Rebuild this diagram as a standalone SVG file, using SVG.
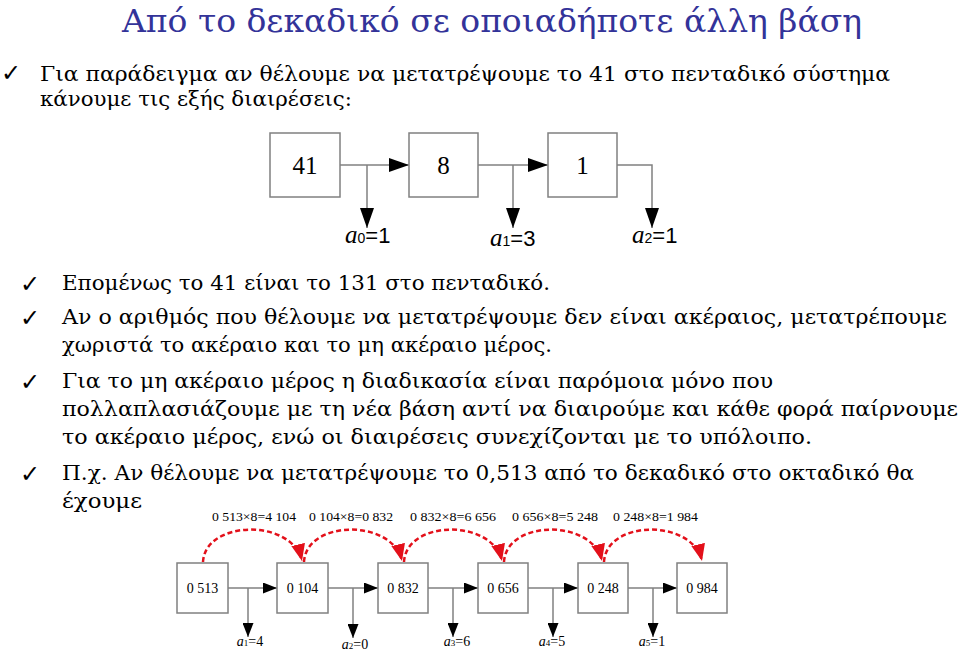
<svg xmlns="http://www.w3.org/2000/svg" width="960" height="651" viewBox="0 0 960 651">
<style>
.title{font-family:"DejaVu Serif","Liberation Serif",serif;font-size:32px;fill:#333399}
.body{font-family:"DejaVu Serif","Liberation Serif",serif;font-size:20px;fill:#000}
.chk{font-family:"DejaVu Sans",sans-serif;font-size:24px;fill:#000}
.box{fill:#fff;stroke:#808080;stroke-width:1.5}
.conn{fill:none;stroke:#808080;stroke-width:1.5}
.big{font-family:"Liberation Serif",serif;font-size:25px;fill:#000;text-anchor:middle}
.lab{font-family:"Liberation Sans",sans-serif;font-size:22px;fill:#000}
.labi{font-family:"Liberation Serif",serif;font-style:italic;font-size:25px}
.sm{font-family:"Liberation Serif",serif;font-size:14px;fill:#000;text-anchor:middle}
.calc{font-family:"Liberation Serif",serif;font-size:13px;fill:#000}
.red{fill:none;stroke:#E3101A;stroke-width:2.5;stroke-dasharray:5,3}
.slab{font-family:"Liberation Serif",serif;font-size:14px;fill:#000;text-anchor:middle}
</style>
<defs>
<marker id="ah" viewBox="0 0 20 14" refX="20" refY="7" markerWidth="20" markerHeight="14" markerUnits="userSpaceOnUse" orient="auto"><path d="M0,0 L20,7 L0,14 z" fill="#000"/></marker>
<marker id="ahs" viewBox="0 0 14 11" refX="14" refY="5.5" markerWidth="14" markerHeight="11" markerUnits="userSpaceOnUse" orient="auto"><path d="M0,0 L14,5.5 L0,11 z" fill="#000"/></marker>
<marker id="ahr" viewBox="0 0 17 14" refX="17" refY="7" markerWidth="17" markerHeight="14" markerUnits="userSpaceOnUse" orient="auto"><path d="M0,0 L17,7 L0,14 z" fill="#E3101A"/></marker>
</defs>

<g id="text">
<text class="title" x="122" y="32" textLength="740" lengthAdjust="spacingAndGlyphs">Από το δεκαδικό σε οποιαδήποτε άλλη βάση</text>
<text class="chk" x="1" y="81">✓</text>
<text class="body" x="40" y="81" textLength="850" lengthAdjust="spacingAndGlyphs">Για παράδειγμα αν θέλουμε να μετατρέψουμε το 41 στο πενταδικό σύστημα</text>
<text class="body" x="40" y="106" textLength="312" lengthAdjust="spacingAndGlyphs">κάνουμε τις εξής διαιρέσεις:</text>
<text class="chk" x="20" y="292">✓</text>
<text class="body" x="62" y="290" textLength="488" lengthAdjust="spacingAndGlyphs">Επομένως το 41 είναι το 131 στο πενταδικό.</text>
<text class="chk" x="20" y="326">✓</text>
<text class="body" x="62" y="324" textLength="885" lengthAdjust="spacingAndGlyphs">Αν ο αριθμός που θέλουμε να μετατρέψουμε δεν είναι ακέραιος, μετατρέπουμε</text>
<text class="body" x="62" y="352" textLength="490" lengthAdjust="spacingAndGlyphs">χωριστά το ακέραιο και το μη ακέραιο μέρος.</text>
<text class="chk" x="20" y="390">✓</text>
<text class="body" x="62" y="388" textLength="711" lengthAdjust="spacingAndGlyphs">Για το μη ακέραιο μέρος η διαδικασία είναι παρόμοια μόνο που</text>
<text class="body" x="62" y="416" textLength="896" lengthAdjust="spacingAndGlyphs">πολλαπλασιάζουμε με τη νέα βάση αντί να διαιρούμε και κάθε φορά παίρνουμε</text>
<text class="body" x="62" y="444" textLength="750" lengthAdjust="spacingAndGlyphs">το ακέραιο μέρος, ενώ οι διαιρέσεις συνεχίζονται με το υπόλοιπο.</text>
<text class="chk" x="20" y="482">✓</text>
<text class="body" x="62" y="480" textLength="852" lengthAdjust="spacingAndGlyphs">Π.χ. Αν θέλουμε να μετατρέψουμε το 0,513 από το δεκαδικό στο οκταδικό θα</text>
<text class="body" x="62" y="508" textLength="80" lengthAdjust="spacingAndGlyphs">έχουμε</text>
</g>

<g id="connectors">
<path class="conn" d="M340 165 H409" marker-end="url(#ah)"/>
<path class="conn" d="M367 165 V228" marker-end="url(#ah)"/>
<path class="conn" d="M478 165 H548" marker-end="url(#ah)"/>
<path class="conn" d="M513 165 V228" marker-end="url(#ah)"/>
<path class="conn" d="M617 165 H652 V228" marker-end="url(#ah)"/>

<path class="conn" d="M228 588 H277" marker-end="url(#ahs)"/>
<path class="conn" d="M248 588 V637" marker-end="url(#ahs)"/>
<path class="conn" d="M328 588 H378" marker-end="url(#ahs)"/>
<path class="conn" d="M353 588 V638" marker-end="url(#ahs)"/>
<path class="conn" d="M428 588 H478" marker-end="url(#ahs)"/>
<path class="conn" d="M453 588 V637" marker-end="url(#ahs)"/>
<path class="conn" d="M528 588 H578" marker-end="url(#ahs)"/>
<path class="conn" d="M553 588 V637" marker-end="url(#ahs)"/>
<path class="conn" d="M628 588 H677" marker-end="url(#ahs)"/>
<path class="conn" d="M653 588 V637" marker-end="url(#ahs)"/>

<path class="red" d="M203 562 C205 520, 292 518, 302 561" marker-end="url(#ahr)"/>
<path class="red" d="M304 562 C306 520, 392 518, 402 561" marker-end="url(#ahr)"/>
<path class="red" d="M404 562 C406 520, 492 518, 502 561" marker-end="url(#ahr)"/>
<path class="red" d="M504 562 C506 520, 592 518, 602 561" marker-end="url(#ahr)"/>
<path class="red" d="M604 562 C606 520, 692 518, 702 561" marker-end="url(#ahr)"/>
</g>

<g id="n41"><rect class="box" x="270" y="133" width="70" height="64"/><text class="big" x="305" y="174">41</text></g>
<g id="n8"><rect class="box" x="409" y="133" width="69" height="64"/><text class="big" x="443.5" y="174">8</text></g>
<g id="n1"><rect class="box" x="548" y="133" width="69" height="64"/><text class="big" x="582.5" y="174">1</text></g>

<g id="lab-a0"><text class="lab" x="345" y="243"><tspan class="labi">a</tspan><tspan font-size="14">0</tspan>=1</text></g>
<g id="lab-a1"><text class="lab" x="490" y="246"><tspan class="labi">a</tspan><tspan font-size="14">1</tspan>=3</text></g>
<g id="lab-a2"><text class="lab" x="632" y="243"><tspan class="labi">a</tspan><tspan font-size="14">2</tspan>=1</text></g>

<g id="calcs">
<text class="calc" x="212" y="521" textLength="84" lengthAdjust="spacingAndGlyphs">0 513×8=4 104</text>
<text class="calc" x="309" y="521" textLength="84" lengthAdjust="spacingAndGlyphs">0 104×8=0 832</text>
<text class="calc" x="410" y="521" textLength="86" lengthAdjust="spacingAndGlyphs">0 832×8=6 656</text>
<text class="calc" x="512" y="521" textLength="86" lengthAdjust="spacingAndGlyphs">0 656×8=5 248</text>
<text class="calc" x="613" y="521" textLength="85" lengthAdjust="spacingAndGlyphs">0 248×8=1 984</text>
</g>

<g id="b0"><rect class="box" x="177" y="563" width="51" height="50"/><text class="sm" x="202.5" y="593">0 513</text></g>
<g id="b1"><rect class="box" x="277" y="563" width="51" height="50"/><text class="sm" x="302.5" y="593">0 104</text></g>
<g id="b2"><rect class="box" x="378" y="563" width="50" height="50"/><text class="sm" x="403" y="593">0 832</text></g>
<g id="b3"><rect class="box" x="478" y="563" width="50" height="50"/><text class="sm" x="503" y="593">0 656</text></g>
<g id="b4"><rect class="box" x="578" y="563" width="50" height="50"/><text class="sm" x="603" y="593">0 248</text></g>
<g id="b5"><rect class="box" x="677" y="563" width="50" height="50"/><text class="sm" x="702" y="593">0 984</text></g>

<g id="bl1"><text class="slab" x="250" y="646"><tspan font-style="italic">a</tspan><tspan font-size="9">1</tspan>=4</text></g>
<g id="bl2"><text class="slab" x="355" y="649"><tspan font-style="italic">a</tspan><tspan font-size="9">2</tspan>=0</text></g>
<g id="bl3"><text class="slab" x="457" y="646"><tspan font-style="italic">a</tspan><tspan font-size="9">3</tspan>=6</text></g>
<g id="bl4"><text class="slab" x="552" y="646"><tspan font-style="italic">a</tspan><tspan font-size="9">4</tspan>=5</text></g>
<g id="bl5"><text class="slab" x="652" y="646"><tspan font-style="italic">a</tspan><tspan font-size="9">5</tspan>=1</text></g>
</svg>
